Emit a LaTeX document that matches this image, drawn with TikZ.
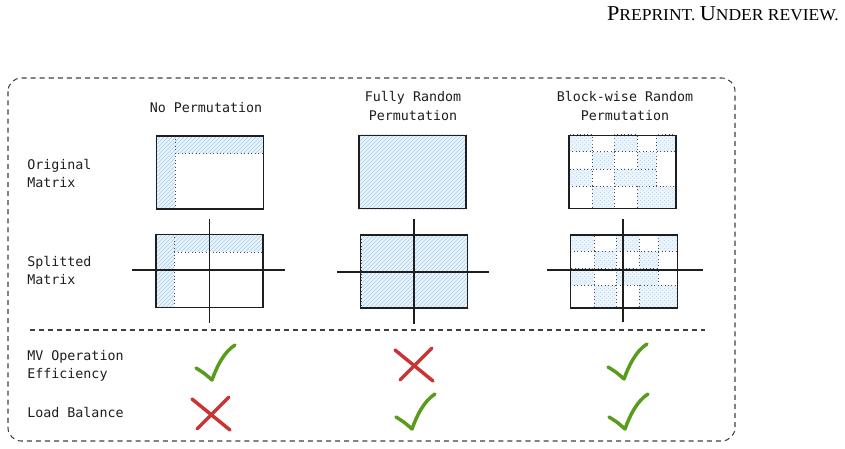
\documentclass[tikz,border=0pt]{standalone}
\usepackage{fontspec}
\newfontfamily\sketchfont{DejaVu Sans Mono}
\newfontfamily\headfont{Liberation Serif}
\usetikzlibrary{calc,patterns,backgrounds}
\definecolor{hatchfill}{HTML}{E9F3FC}
\definecolor{hatchline}{HTML}{A9CFEF}
\definecolor{okgreen}{HTML}{5A9A1C}
\definecolor{nored}{HTML}{CC3333}
\definecolor{inkgray}{HTML}{1E1E1E}
\tikzset{
	frame/.style={draw=inkgray!85,line width=0.8pt,dash pattern=on 3.8pt off 3pt},
	matbox/.style={draw=inkgray,line width=0.9pt,minimum width=80.25pt,minimum height=54.75pt,inner sep=0pt},
	hatch/.style={fill=hatchfill,postaction={pattern=north east lines,pattern color=hatchline}},
	dotline/.style={draw=inkgray!80,dotted,line width=0.6pt},
	splitline/.style={draw=inkgray,line width=1pt},
	rowlabel/.style={font=\sketchfont\fontsize{10}{13.5}\selectfont,text=inkgray,align=left,anchor=west,inner sep=0pt},
	colhead/.style={font=\sketchfont\fontsize{10}{14}\selectfont,text=inkgray,align=center,inner sep=0pt},
	tickline/.style={draw=okgreen,line width=2.6pt,line cap=round,line join=round},
	crossline/.style={draw=nored,line width=2.6pt,line cap=round},
	tickmark/.pic={\draw[tickline] (-18,5) .. controls (-10,10) .. (-2,17) .. controls (3,3) and (10,-11) .. (21,-18);},
	crossmark/.pic={\draw[crossline] (-19,-15) -- (19,16); \draw[crossline] (18,-17) -- (-14,15);},
	blockgrid/.pic={
		\foreach \xa/\ya/\xb/\yb in {0/0/24/17,46/0/69/17,88/0/107/17,24/17/46/34,69/17/88/34,0/34/24/51,46/34/88/51,24/51/46/73,69/51/107/73}
			\draw[hatch,dotline] (\xa,\ya) rectangle (\xb,\yb);
	}
}

\begin{document}
\begin{tikzpicture}[x=0.75pt,y=-0.75pt]
	\useasboundingbox (0,0) rectangle (845,449);
	\node[anchor=base east,inner sep=0pt] (hdr) at (839,20.5) {\scalebox{1.05}[1]{\headfont{\fontsize{15.9}{18}\selectfont P}{\fontsize{12.5}{18}\selectfont REPRINT. }{\fontsize{15.9}{18}\selectfont U}{\fontsize{12.5}{18}\selectfont NDER REVIEW.}}};
	\draw[frame,rounded corners=10pt] (8,78) rectangle (735,441);
	\draw[frame] (30,330) -- (705,330);
	% headers and labels
	\node[colhead] (h1) at (206,108) {No Permutation};
	\node[colhead] (h2) at (413,106) {Fully Random\\Permutation};
	\node[colhead] (h3) at (625,106) {Block-wise Random\\Permutation};
	\node[rowlabel] (r1) at (27,173) {Original\\Matrix};
	\node[rowlabel] (r2) at (27,270) {Splitted\\Matrix};
	\node[rowlabel] (r3) at (27,366) {MV Operation\\Efficiency};
	\node[rowlabel] (r4) at (27,412) {Load Balance};
	% matrices
	\node[matbox] (o1) at (210,172.5) {};
	\node[matbox] (o2) at (412.5,172) {};
	\node[matbox] (o3) at (622.5,172) {};
	\node[matbox] (s1) at (209.5,271) {};
	\node[matbox] (s2) at (414,271.5) {};
	\node[matbox] (s3) at (624,271.5) {};
	\begin{scope}[on background layer]
		\foreach \m in {o1,s1}{
			\begin{scope}[shift={(\m.north west)}]
				\path[hatch] (0,0) rectangle (19,73) (19,0) rectangle (107,18);
				\draw[dotline] (19,0) -- (19,73) (19,18) -- (107,18);
			\end{scope}
		}
		\foreach \m in {o2,s2}{
			\path[hatch] (\m.north west) rectangle (\m.south east);
			\draw[dotline] ($(\m.north west)+(1,1)$) rectangle ($(\m.south east)+(-1,-1)$);
		}
		\pic at (o3.north west) {blockgrid};
		\pic at (s3.north west) {blockgrid};
	\end{scope}
	% split lines
	\draw[splitline] ($(s1.west)+(-23,-1)$) -- ($(s1.east)+(21,-1)$);
	\draw[splitline] ($(s1.north)+(0,-15)$) -- ($(s1.south)+(0,15)$);
	\draw[splitline] ($(s2.west)+(-23,0.5)$) -- ($(s2.east)+(21,0.5)$);
	\draw[splitline] ($(s2.north)+(0,-15)$) -- ($(s2.south)+(0,15)$);
	\draw[splitline] ($(s3.west)+(-23,-1.5)$) -- ($(s3.east)+(25,-1.5)$);
	\draw[splitline] ($(s3.north)+(-1,-15)$) -- ($(s3.south)+(-1,13)$);
	% ticks and crosses
	\pic at (214,363) {tickmark};
	\pic at (414,365) {crossmark};
	\pic at (626,362) {tickmark};
	\pic at (211,414) {crossmark};
	\pic at (414,412) {tickmark};
	\pic at (627,412) {tickmark};
\end{tikzpicture}
\end{document}
